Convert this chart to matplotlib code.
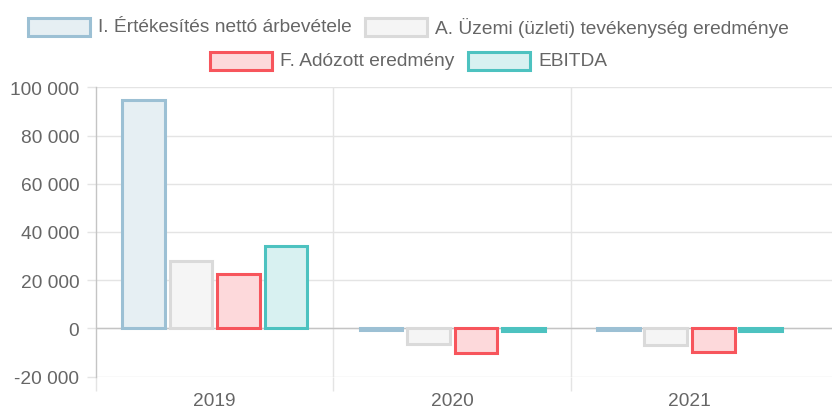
import matplotlib
matplotlib.use("Agg")
import matplotlib.pyplot as plt
from matplotlib.patches import Rectangle
from matplotlib.ticker import FuncFormatter, FixedLocator

plt.rcParams['font.family'] = ['Liberation Sans', 'DejaVu Sans']

years = ["2019", "2020", "2021"]
series_names = [
    "I. Értékesítés nettó árbevétele",
    "A. Üzemi (üzleti) tevékenység eredménye",
    "F. Adózott eredmény",
    "EBITDA",
]
revenue = [94800, -600, -600]
operating_result = [28000, -6500, -6700]
net_income = [22500, -10000, -9600]
ebitda = [34000, -1000, -1000]
series_values = [revenue, operating_result, net_income, ebitda]

edge_colors = ["#9CC0D4", "#DADADA", "#F7555C", "#4DC2C0"]
face_colors = ["#E6EFF3", "#F5F5F5", "#FDD9DB", "#D8F1F1"]

TEXT = "#666666"
GRID = "#E4E4E4"
AXIS = "#C4C4C4"
FS = 13.8

W, H = 834, 410
fig = plt.figure(figsize=(W / 100, H / 100), dpi=100)
ax_left, ax_right, ax_top, ax_bottom = 96, 832, 88.3, 377.7
ax = fig.add_axes([ax_left / W, 1 - ax_bottom / H,
                   (ax_right - ax_left) / W, (ax_bottom - ax_top) / H])

n = len(series_values)
slot = 0.8 / n
bar_w = slot * 0.9
x = list(range(len(years)))
for i, (vals, ec, fc) in enumerate(zip(series_values, edge_colors, face_colors)):
    offs = (i - (n - 1) / 2) * slot
    ax.bar([xi + offs for xi in x], vals, width=bar_w, color=fc,
           edgecolor=ec, linewidth=2.2, zorder=3)

ax.set_xlim(-0.5, 2.6)
ax.set_ylim(-20000, 100000)

# y axis
ax.yaxis.set_major_locator(FixedLocator(range(-20000, 100001, 20000)))
ax.yaxis.set_major_formatter(FuncFormatter(
    lambda v, p: f"{int(v):,}".replace(",", " ")))
ax.grid(axis="y", color=GRID, linewidth=1.0, zorder=0)
ax.tick_params(axis="y", length=6.5, width=1.0, color=GRID, pad=5.5,
               labelsize=FS, labelcolor=TEXT)
ax.axhline(0, color=AXIS, linewidth=1.0, zorder=1)

# x axis: labels at category centres, lines at category boundaries
ax.set_xticks(x)
ax.set_xticklabels(years)
ax.tick_params(axis="x", which="major", length=0, pad=11,
               labelsize=FS, labelcolor=TEXT)
ax.set_xticks([-0.5, 0.5, 1.5], minor=True)
ax.tick_params(axis="x", which="minor", length=10, width=1.0, color=GRID)
for b in [0.5, 1.5]:
    ax.axvline(b, color=GRID, linewidth=1.0, zorder=0)

for s in ["top", "right", "bottom"]:
    ax.spines[s].set_visible(False)
ax.spines["left"].set_color(AXIS)
ax.spines["left"].set_linewidth(1.0)
ax.set_axisbelow(True)

# legend, two centred rows
renderer = fig.canvas.get_renderer()
rows = [[0, 1], [2, 3]]
row_y = [28, 62]
box_w, box_h, txt_gap, item_gap = 64, 20, 7, 13
center_x = 408
for row, yc in zip(rows, row_y):
    items = []
    for idx in row:
        t = fig.text(0, 1 - yc / H, series_names[idx], fontsize=FS,
                     color=TEXT, va="center", ha="left")
        tw = t.get_window_extent(renderer).width
        items.append((idx, t, tw))
    total = sum(box_w + txt_gap + tw for _, _, tw in items) + item_gap * (len(items) - 1)
    cur = center_x - total / 2
    for idx, t, tw in items:
        fig.add_artist(Rectangle(((cur + 1) / W, 1 - (yc + box_h / 2 - 1) / H),
                                 (box_w - 2) / W, (box_h - 2) / H,
                                 transform=fig.transFigure,
                                 facecolor=face_colors[idx],
                                 edgecolor=edge_colors[idx], linewidth=2.2))
        t.set_x((cur + box_w + txt_gap) / W)
        cur += box_w + txt_gap + tw + item_gap

fig.savefig("out.png", dpi=100)
